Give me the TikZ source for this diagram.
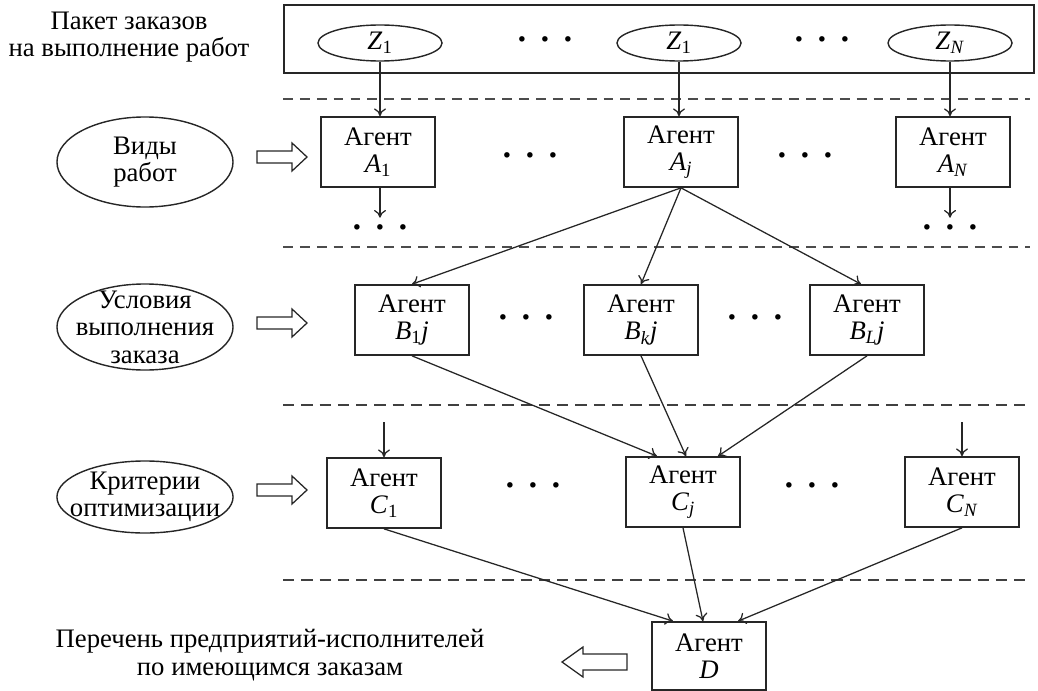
\documentclass[tikz,border=0pt]{standalone}
\usepackage{fontspec}
\setmainfont{Liberation Serif}
\usetikzlibrary{shapes.geometric,arrows.meta,calc}

\newcommand{\iv}[2]{\textit{#1}\textsubscript{#2}}
\newcommand{\tridots}{\textbf{·\hspace{.35em}·\hspace{.35em}·}}

\begin{document}
\begin{tikzpicture}[x=0.025cm,y=-0.025cm,font=\fontsize{19}{19.5}\selectfont,
  agent/.style={rectangle,draw=black!85,line width=1.2pt,minimum width=2.85cm,minimum height=1.75cm,align=center,inner sep=0pt},
  zell/.style={ellipse,draw=black!85,line width=1pt,minimum width=3.1cm,minimum height=0.9cm,inner sep=0pt},
  sell/.style={ellipse,draw=black!85,line width=1pt,minimum width=4.4cm,inner xsep=-0.32cm,inner ysep=-0.25cm,align=center},
  txt/.style={align=center,inner sep=0pt},
  dotsn/.style={inner sep=0pt,font=\fontsize{24}{24}\selectfont},
  arr/.style={-{To[length=5.5pt,width=8.5pt]},line width=0.9pt,draw=black!85},
  septhin/.style={dash pattern=on 7pt off 5pt,line width=0.8pt,draw=black!70},
  septhick/.style={dash pattern=on 8pt off 5pt,line width=1.6pt,draw=black!75},
  fatright/.pic={\draw[line width=0.9pt,draw=black!85] (0,-6) -- (35,-6) -- (35,-14) -- (50,0) -- (35,14) -- (35,6) -- (0,6) -- cycle;},
  fatleft/.pic={\draw[line width=0.9pt,draw=black!85] (0,0) -- (21,-15) -- (21,-8) -- (65,-8) -- (65,8) -- (21,8) -- (21,15) -- cycle;}]

\useasboundingbox (0,0) rectangle (1038,690);

% orders
\node[txt] (paket) at (129,37) {Пакет заказов\\на выполнение работ};
\node[draw=black!85,line width=1.2pt,minimum width=18.75cm,minimum height=1.7cm] (pool) at (659,39) {};
\node[zell] (z1) at (380,43) {\iv{Z}{1}};
\node[zell] (z2) at (679,43) {\iv{Z}{1}};
\node[zell] (zN) at (950,43) {\iv{Z}{\textit{N}}};
\node[dotsn] (dz1) at (545,44) {\tridots};
\node[dotsn] (dz2) at (822,44) {\tridots};

\draw[septhin] (283,99) -- (1030,99);

% agents A
\node[sell,minimum height=2.25cm] (vidy) at (145,162) {Виды\\работ};
\pic at (257,157) {fatright};
\node[agent] (a1) at (378,152) {Агент\\\iv{A}{1}};
\node[agent] (aj) at (681,152) {Агент\\\iv{A}{\textit{j}}};
\node[agent] (aN) at (953,152) {Агент\\\iv{A}{\textit{N}}};
\node[dotsn] (da1) at (530,160) {\tridots};
\node[dotsn] (da2) at (805,160) {\tridots};
\node[dotsn] (dl1) at (380,232) {\tridots};
\node[dotsn] (dl2) at (950,232) {\tridots};

\draw[arr] (z1) -- (z1 |- a1.north);
\draw[arr] (z2) -- (z2 |- aj.north);
\draw[arr] (zN) -- (zN |- aN.north);
\draw[arr,shorten >=5pt] (dl1 |- a1.south) -- (dl1);
\draw[arr,shorten >=5pt] (dl2 |- aN.south) -- (dl2);

\draw[septhin] (283,247) -- (1030,247);

% agents B
\node[sell,minimum height=2.15cm] (uslov) at (145,327) {Условия\\выполнения\\заказа};
\pic at (257,323) {fatright};
\node[agent] (b1) at (412,320) {Агент\\\iv{B}{1}\textit{j}};
\node[agent] (bk) at (641,320) {Агент\\\iv{B}{\textit{k}}\textit{j}};
\node[agent] (bL) at (867,320) {Агент\\\iv{B}{\textit{L}}\textit{j}};
\node[dotsn] (db1) at (526,322) {\tridots};
\node[dotsn] (db2) at (755,322) {\tridots};

\draw[arr] (aj.south) -- (b1.north);
\draw[arr] (aj.south) -- (bk.north);
\draw[arr] (aj.south) -- ($(bL.north)+(-6,0)$);

\draw[septhick] (283,405) -- (1030,405);

% agents C
\node[sell,minimum height=1.8cm] (krit) at (145,497) {Критерии\\оптимизации};
\pic at (257,490) {fatright};
\node[agent] (c1) at (384,493) {Агент\\\iv{C}{1}};
\node[agent] (cj) at (683,492) {Агент\\\iv{C}{\textit{j}}};
\node[agent] (cN) at (962,492) {Агент\\\iv{C}{\textit{N}}};
\node[dotsn] (dc1) at (533,490) {\tridots};
\node[dotsn] (dc2) at (812,490) {\tridots};
\coordinate (c1in) at (384,422);
\coordinate (cNin) at (962,422);

\draw[arr] (c1in) -- (c1.north);
\draw[arr] (cNin) -- (cN.north);
\draw[arr] (b1.south) -- ($(cj.north)+(-26,0)$);
\draw[arr] (bk.south) -- ($(cj.north)+(3,0)$);
\draw[arr] (bL.south) -- ($(cj.north)+(35,0)$);

\draw[septhick] (283,580) -- (1030,580);

% agent D
\node[agent,minimum height=1.7cm] (d) at (709,656) {Агент\\\textit{D}};
\node[txt] (perechen) at (270,655) {Перечень предприятий-исполнителей\\по имеющимся заказам};
\pic at (562,662) {fatleft};

\draw[arr] (c1.south) -- ($(d.north)+(-36,0)$);
\draw[arr] (cj.south) -- ($(d.north)+(-6,0)$);
\draw[arr] (cN.south) -- ($(d.north)+(29,0)$);
\end{tikzpicture}
\end{document}
